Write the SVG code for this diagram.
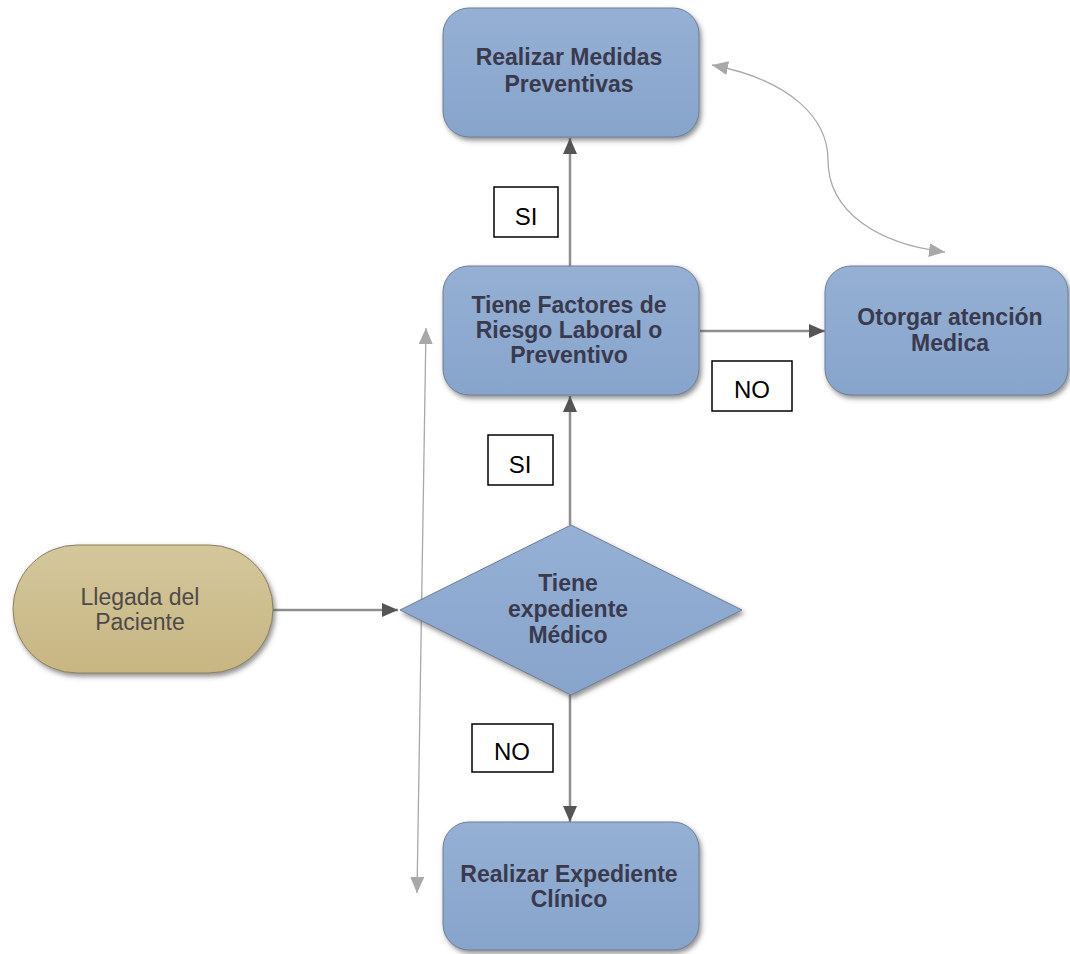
<svg xmlns="http://www.w3.org/2000/svg" width="1070" height="954" viewBox="0 0 1070 954">
<defs>
<linearGradient id="gBlue" x1="0" y1="0" x2="0" y2="1">
<stop offset="0" stop-color="#95b0d4"/>
<stop offset="1" stop-color="#87a4cb"/>
</linearGradient>
<linearGradient id="gTan" x1="0" y1="0" x2="0" y2="1">
<stop offset="0" stop-color="#d3c79b"/>
<stop offset="1" stop-color="#c8b682"/>
</linearGradient>
<filter id="sh" x="-10%" y="-10%" width="125%" height="130%">
<feDropShadow dx="2" dy="3" stdDeviation="2.5" flood-color="#444" flood-opacity="0.6"/>
</filter>
<marker id="ah" viewBox="0 0 16 14" refX="16" refY="7" markerWidth="16" markerHeight="14" markerUnits="userSpaceOnUse" orient="auto">
<path d="M0,0 L16,7 L0,14 Z" fill="#555"/>
</marker>
<marker id="ahl" viewBox="0 0 16 14" refX="16" refY="7" markerWidth="16" markerHeight="14" markerUnits="userSpaceOnUse" orient="auto">
<path d="M0,0 L16,7 L0,14 Z" fill="#a8a8a8"/>
</marker>
<marker id="ahls" viewBox="0 0 16 14" refX="0" refY="7" markerWidth="16" markerHeight="14" markerUnits="userSpaceOnUse" orient="auto">
<path d="M16,0 L0,7 L16,14 Z" fill="#a8a8a8"/>
</marker>
</defs>
<style>
.box{fill:url(#gBlue);stroke:#6f7f95;stroke-width:1;filter:url(#sh)}
.tan{fill:url(#gTan);stroke:#8a7f60;stroke-width:1;filter:url(#sh)}
.t{font-family:"Liberation Sans",Arial,sans-serif;font-size:23px;font-weight:bold;fill:#3a3a4e;text-anchor:middle}
.tr{font-family:"Liberation Sans",Arial,sans-serif;font-size:23px;fill:#4e4a4a;text-anchor:middle}
.conn{stroke:#8e8e8e;stroke-width:2.5;fill:none}
.thin{stroke:#a8a8a8;stroke-width:1.3;fill:none}
.lbl{fill:#fff;stroke:#000;stroke-width:1.5}
.lt{font-family:"Liberation Sans",Arial,sans-serif;font-size:24px;fill:#000;text-anchor:middle}
</style>
<rect width="1070" height="954" fill="#fff"/>
<g id="connectors">
<line class="conn" x1="273" y1="610" x2="398" y2="610" marker-end="url(#ah)"/>
<line class="conn" x1="570" y1="525" x2="570" y2="396" marker-end="url(#ah)"/>
<line class="conn" x1="570" y1="266" x2="570" y2="138" marker-end="url(#ah)"/>
<line class="conn" x1="700" y1="331" x2="825" y2="331" marker-end="url(#ah)"/>
<line class="conn" x1="570" y1="695" x2="570" y2="822" marker-end="url(#ah)"/>
<line class="thin" x1="426" y1="328" x2="417" y2="893" marker-start="url(#ahls)" marker-end="url(#ahl)"/>
<path class="thin" d="M712,65 C790,80 828,118 828,160 C828,212 878,244 945,252" marker-start="url(#ahls)" marker-end="url(#ahl)"/>
</g>
<g id="n1">
<rect class="box" x="443" y="8" width="256" height="129" rx="26"/>
<text class="t" x="569" y="65">Realizar Medidas</text>
<text class="t" x="569" y="92">Preventivas</text>
</g>
<g id="n2">
<rect class="box" x="443" y="266" width="256" height="129" rx="26"/>
<text class="t" x="569" y="313">Tiene Factores de</text>
<text class="t" x="569" y="338">Riesgo Laboral o</text>
<text class="t" x="569" y="363">Preventivo</text>
</g>
<g id="n3">
<rect class="box" x="825" y="266" width="243" height="129" rx="26"/>
<text class="t" x="950" y="325">Otorgar atención</text>
<text class="t" x="950" y="351">Medica</text>
</g>
<g id="n4">
<rect class="tan" x="13" y="545" width="260" height="128" rx="64"/>
<text class="tr" x="140" y="605">Llegada del</text>
<text class="tr" x="140" y="630">Paciente</text>
</g>
<g id="n5">
<polygon class="box" points="571,525 742,610 571,695 400,610"/>
<text class="t" x="568" y="591">Tiene</text>
<text class="t" x="568" y="617">expediente</text>
<text class="t" x="568" y="643">Médico</text>
</g>
<g id="n6">
<rect class="box" x="443" y="822" width="256" height="128" rx="26"/>
<text class="t" x="569" y="882">Realizar Expediente</text>
<text class="t" x="569" y="907">Clínico</text>
</g>
<g id="labels">
<rect class="lbl" x="494" y="187" width="64" height="50"/>
<text class="lt" x="526" y="225">SI</text>
<rect class="lbl" x="712" y="361" width="80" height="50"/>
<text class="lt" x="752" y="398">NO</text>
<rect class="lbl" x="488" y="435" width="65" height="50"/>
<text class="lt" x="520" y="473">SI</text>
<rect class="lbl" x="472" y="724" width="81" height="48"/>
<text class="lt" x="512" y="760">NO</text>
</g>
</svg>
